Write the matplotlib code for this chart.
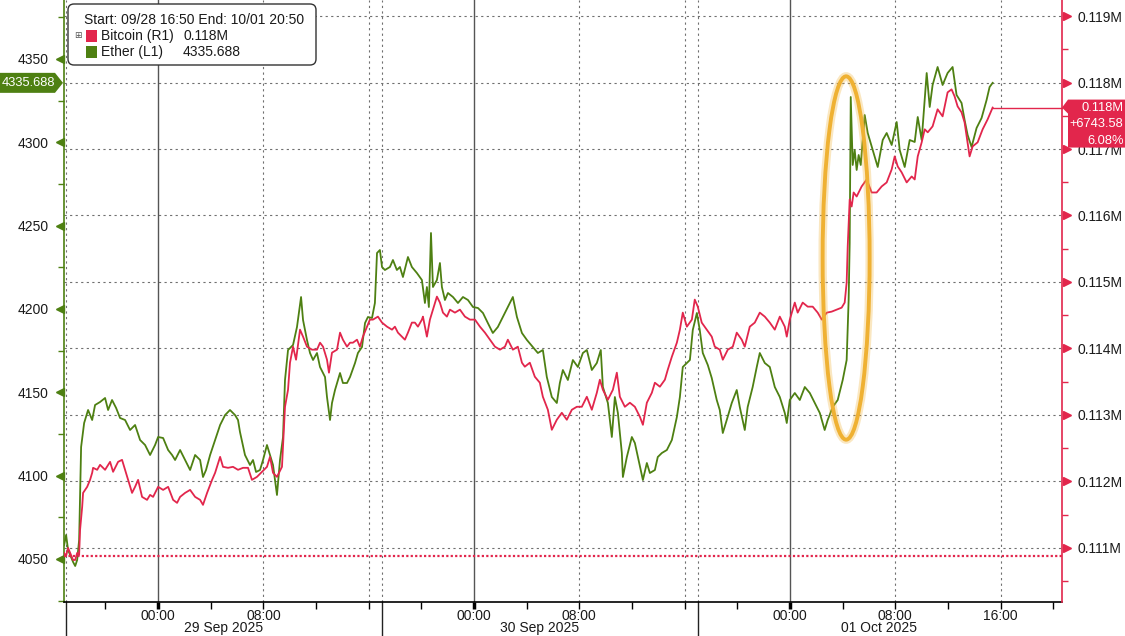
import matplotlib
matplotlib.use("Agg")
import matplotlib.pyplot as plt
import matplotlib.transforms as mtransforms
from matplotlib import font_manager
from matplotlib.patches import Ellipse, FancyBboxPatch, Polygon, Rectangle

_names = {f.name for f in font_manager.fontManager.ttflist}
if 'Liberation Sans Narrow' in _names:
    plt.rcParams['font.family'] = ['Liberation Sans Narrow', 'DejaVu Sans']
    FS = 10.5
    FS_TAG = 10.5
else:
    plt.rcParams['font.family'] = ['Liberation Sans', 'DejaVu Sans']
    FS = 10
    FS_TAG = 9.3

# ---------------- data (time = hours since 2025-09-28 00:00) ----------------
eth_hours = [
    16.86, 17.01, 17.16, 17.32, 17.54, 17.70, 17.85, 18.00, 18.15, 18.38,
    18.68, 18.99, 19.21, 19.59, 19.97, 20.20, 20.50, 20.81, 21.11, 21.49,
    21.87, 22.25, 22.63, 23.01, 23.39, 23.77, 24.00, 24.38, 24.76, 25.06,
    25.29, 25.67, 26.05, 26.43, 26.81, 27.19, 27.41, 27.64, 27.95, 28.33,
    28.71, 29.09, 29.46, 29.84, 30.07, 30.22, 30.60, 30.98, 31.21, 31.44,
    31.74, 31.97, 32.27, 32.50, 32.73, 33.03, 33.26, 33.49, 33.64, 33.87,
    34.25, 34.55, 34.86, 35.01, 35.31, 35.54, 35.77, 36.07, 36.30, 36.68,
    36.83, 37.06, 37.21, 37.44, 37.82, 38.04, 38.35, 38.58, 38.96, 39.18,
    39.49, 39.72, 39.94, 40.25, 40.47, 40.63, 40.85, 41.01, 41.23, 41.61,
    41.84, 42.14, 42.37, 42.60, 42.98, 43.28, 43.66, 44.04, 44.27, 44.42,
    44.57, 44.73, 44.88, 45.18, 45.41, 45.56, 45.79, 46.02, 46.40, 46.78,
    47.16, 47.54, 47.92, 48.30, 48.68, 49.05, 49.43, 49.81, 50.19, 50.57,
    50.95, 51.26, 51.64, 52.02, 52.47, 52.85, 53.23, 53.53, 53.91, 54.29,
    54.52, 54.75, 55.13, 55.51, 55.89, 56.27, 56.57, 56.95, 57.33, 57.63,
    57.79, 58.17, 58.47, 58.70, 58.93, 59.23, 59.31, 59.61, 59.99, 60.22,
    60.45, 60.83, 61.13, 61.36, 61.74, 61.96, 62.27, 62.65, 63.03, 63.41,
    63.64, 63.86, 64.17, 64.40, 64.62, 64.93, 65.15, 65.38, 65.76, 66.06,
    66.44, 66.67, 66.90, 67.20, 67.58, 67.96, 68.19, 68.57, 68.79, 69.17,
    69.48, 69.71, 70.09, 70.47, 70.85, 71.23, 71.61, 71.76, 71.99, 72.37,
    72.75, 73.13, 73.51, 73.89, 74.27, 74.64, 74.87, 75.25, 75.63, 76.01,
    76.31, 76.46, 76.54, 76.62, 76.77, 76.92, 77.07, 77.22, 77.38, 77.68,
    77.91, 78.29, 78.67, 79.05, 79.35, 79.73, 80.11, 80.34, 80.72, 81.10,
    81.48, 81.71, 82.01, 82.39, 82.62, 82.84, 83.22, 83.60, 83.98, 84.36,
    84.66, 85.04, 85.27, 85.50, 85.80, 86.18, 86.56, 86.94, 87.17, 87.40,
]
eth_values = [
    4058.4, 4064.4, 4055.4, 4052.4, 4048.2, 4045.8, 4049.4, 4061.4, 4117.2, 4131.6,
    4139.4, 4133.4, 4142.4, 4144.2, 4146.6, 4139.4, 4145.4, 4140.6, 4134.6, 4133.4,
    4127.4, 4130.4, 4121.4, 4118.4, 4112.4, 4118.4, 4123.2, 4122.6, 4115.4, 4112.4,
    4109.4, 4115.4, 4109.4, 4103.4, 4112.4, 4109.4, 4099.2, 4103.4, 4112.4, 4121.4,
    4130.4, 4136.4, 4139.4, 4136.4, 4133.4, 4126.2, 4112.4, 4106.4, 4109.4, 4102.2,
    4103.4, 4109.4, 4118.4, 4112.4, 4106.4, 4088.4, 4109.4, 4123.2, 4157.4, 4175.4,
    4178.4, 4189.2, 4207.2, 4193.4, 4181.4, 4173.6, 4169.4, 4173.6, 4165.2, 4159.2,
    4147.2, 4133.4, 4143.6, 4151.4, 4161.6, 4155.6, 4155.6, 4159.2, 4167.6, 4173.6,
    4177.2, 4191.6, 4195.2, 4194.6, 4203.6, 4233.6, 4235.4, 4225.2, 4223.4, 4225.2,
    4229.4, 4223.4, 4225.2, 4219.2, 4231.2, 4225.2, 4221.6, 4217.4, 4203.6, 4213.2,
    4201.2, 4245.6, 4213.2, 4217.4, 4227.6, 4213.2, 4205.4, 4209.6, 4207.2, 4203.6,
    4207.2, 4205.4, 4201.2, 4200.6, 4197.6, 4191.6, 4185.6, 4189.2, 4195.2, 4201.2,
    4207.2, 4195.2, 4185.6, 4181.4, 4177.2, 4173.6, 4175.4, 4159.2, 4147.2, 4143.6,
    4155.6, 4163.4, 4157.4, 4169.4, 4165.2, 4173.6, 4175.4, 4163.4, 4167.6, 4175.4,
    4153.2, 4143.6, 4123.2, 4147.2, 4137.6, 4113.6, 4099.2, 4111.2, 4123.2, 4119.6,
    4111.2, 4097.4, 4107.6, 4101.6, 4103.4, 4111.2, 4113.6, 4115.4, 4121.4, 4135.2,
    4147.2, 4165.2, 4167.6, 4169.4, 4187.4, 4197.6, 4187.4, 4173.6, 4166.4, 4158.6,
    4145.4, 4139.4, 4125.6, 4133.4, 4143.6, 4151.4, 4141.2, 4127.4, 4141.2, 4153.2,
    4165.2, 4173.6, 4167.6, 4165.2, 4153.2, 4147.2, 4137.6, 4131.6, 4145.4, 4149.6,
    4145.4, 4153.2, 4149.6, 4143.6, 4137.6, 4127.4, 4133.4, 4141.2, 4145.4, 4157.4,
    4169.4, 4205.4, 4239.6, 4327.2, 4286.4, 4295.4, 4283.4, 4292.4, 4286.4, 4316.4,
    4305.6, 4295.4, 4285.2, 4301.4, 4305.6, 4298.4, 4312.2, 4295.4, 4285.2, 4301.4,
    4300.2, 4315.2, 4301.4, 4341.6, 4321.2, 4334.4, 4345.2, 4334.4, 4341.6, 4345.2,
    4328.4, 4323.6, 4313.4, 4304.4, 4297.2, 4308.6, 4314.6, 4325.4, 4333.2, 4335.688,
]

btc_hours = [
    16.86, 17.01, 17.16, 17.32, 17.54, 17.70, 17.85, 18.00, 18.07, 18.23,
    18.30, 18.61, 18.83, 18.99, 19.06, 19.37, 19.59, 19.97, 20.35, 20.58,
    20.96, 21.26, 21.49, 21.72, 22.02, 22.25, 22.48, 22.78, 23.16, 23.39,
    23.62, 24.00, 24.38, 24.76, 25.14, 25.44, 25.67, 26.05, 26.43, 26.81,
    27.19, 27.41, 27.72, 28.10, 28.33, 28.71, 28.93, 29.31, 29.69, 30.07,
    30.45, 30.83, 31.13, 31.51, 31.89, 32.27, 32.50, 32.73, 33.03, 33.41,
    33.64, 33.87, 34.02, 34.25, 34.48, 34.78, 35.01, 35.31, 35.69, 36.07,
    36.30, 36.53, 36.83, 36.98, 37.21, 37.59, 37.82, 38.04, 38.35, 38.58,
    38.80, 39.11, 39.33, 39.56, 39.87, 40.09, 40.32, 40.70, 41.01, 41.39,
    41.77, 41.99, 42.22, 42.52, 42.75, 42.98, 43.28, 43.51, 43.74, 44.04,
    44.12, 44.42, 44.65, 44.88, 45.18, 45.41, 45.64, 45.94, 46.17, 46.55,
    46.93, 47.31, 47.69, 48.07, 48.45, 48.83, 49.21, 49.59, 49.97, 50.35,
    50.57, 50.95, 51.33, 51.64, 51.86, 52.24, 52.62, 53.00, 53.23, 53.61,
    53.91, 54.29, 54.67, 55.05, 55.43, 55.81, 56.19, 56.57, 56.95, 57.33,
    57.56, 57.79, 58.17, 58.55, 58.85, 59.08, 59.46, 59.84, 60.22, 60.60,
    60.83, 61.13, 61.51, 61.74, 62.12, 62.50, 62.72, 63.03, 63.41, 63.64,
    63.86, 64.17, 64.55, 64.77, 65.00, 65.30, 65.68, 66.06, 66.29, 66.67,
    66.90, 67.28, 67.66, 67.96, 68.34, 68.57, 68.95, 69.33, 69.71, 70.09,
    70.47, 70.85, 71.23, 71.61, 71.76, 71.99, 72.37, 72.59, 72.97, 73.35,
    73.73, 74.11, 74.42, 74.80, 75.17, 75.55, 75.93, 76.16, 76.31, 76.39,
    76.54, 76.69, 76.84, 77.07, 77.45, 77.83, 78.21, 78.59, 78.97, 79.35,
    79.73, 79.96, 80.19, 80.49, 80.87, 81.25, 81.48, 81.71, 82.01, 82.24,
    82.47, 82.84, 83.22, 83.60, 83.98, 84.28, 84.51, 84.74, 85.04, 85.27,
    85.65, 85.88, 86.26, 86.64, 87.02, 87.40,
]
btc_values = [
    110925, 110880, 111000, 110925, 110819, 110819, 110925, 110895, 111271, 111617,
    111828, 111919, 112024, 112130, 112205, 112175, 112250, 112175, 112295, 112145,
    112295, 112325, 112175, 112024, 111828, 111919, 112024, 111768, 111723, 111798,
    111768, 111919, 111873, 111919, 111723, 111678, 111768, 111828, 111873, 111768,
    111723, 111648, 111828, 112024, 112130, 112370, 112220, 112205, 112220, 112175,
    112205, 112205, 112024, 112069, 112145, 112220, 112370, 112130, 112069, 112220,
    113123, 113379, 113786, 114027, 113831, 114283, 114178, 114027, 113982, 113982,
    114087, 114027, 113831, 113636, 113937, 113982, 114238, 114132, 114027, 114087,
    114087, 114132, 114027, 114178, 114328, 114434, 114434, 114479, 114389, 114328,
    114283, 114328, 114238, 114178, 114132, 114238, 114389, 114389, 114328, 114434,
    114479, 114178, 114434, 114584, 114780, 114690, 114539, 114479, 114584, 114539,
    114584, 114479, 114434, 114434, 114328, 114238, 114132, 114027, 113982, 114027,
    114132, 113982, 114027, 113786, 113726, 113786, 113575, 113485, 113274, 113078,
    112777, 112928, 113033, 112928, 113078, 113123, 113123, 113274, 113078, 113334,
    113530, 113379, 113229, 113379, 113636, 113274, 113123, 113184, 113123, 112973,
    112852, 113184, 113334, 113485, 113425, 113530, 113681, 113876, 114087, 114283,
    114539, 114328, 114434, 114735, 114629, 114389, 114283, 114178, 114027, 113982,
    113831, 113982, 114027, 114238, 114132, 114027, 114328, 114389, 114539, 114479,
    114389, 114283, 114479, 114328, 114178, 114434, 114690, 114539, 114690, 114629,
    114629, 114539, 114434, 114539, 114554, 114584, 114614, 114690, 114991, 115533,
    116241, 116135, 116346, 116286, 116437, 116542, 116346, 116346, 116437, 116497,
    116693, 116889, 116738, 116648, 116497, 116587, 116542, 116889, 117100, 117296,
    117251, 117341, 117597, 117491, 117852, 117897, 117792, 117641, 117551, 117400,
    116889, 117039, 117100, 117296, 117446, 117623,
]
btc_change = 6743.58
btc_change_pct = 6.08

eth_ticks = [4050, 4100, 4150, 4200, 4250, 4300, 4350]
eth_minor_ticks = [4025, 4075, 4125, 4175, 4225, 4275, 4325, 4375]
btc_ticks = [111000, 112000, 113000, 114000, 115000, 116000, 117000, 118000, 119000]
btc_minor_ticks = [110500, 111500, 112500, 113500, 114500, 115500, 116500, 117500, 118500]

x_major_hours = [24, 32, 40, 48, 56, 64, 72, 80, 88]
x_major_labels = ["00:00", "08:00", "", "00:00", "08:00", "", "00:00", "08:00", "16:00"]
x_minor_hours = [20, 28, 36, 44, 52, 60, 68, 76, 84, 92]
midnight_hours = [24, 48, 72]
dashed_hours = [32, 40, 56, 64, 80, 88]
session_breaks = [17, 41, 65]
day_labels = ["29 Sep 2025", "30 Sep 2025", "01 Oct 2025"]
day_label_hours = [29.0, 53.0, 78.8]
legend_title = "Start: 09/28 16:50 End: 10/01 20:50"
btc_name = "Bitcoin (R1)"
eth_name = "Ether (L1)"

# ---------------- styling ----------------
GREEN = '#4e8012'
RED = '#e2264c'
ORANGE = '#efb133'
GRIDC = '#707070'
TXT = '#1a1a1a'
W, H = 1125, 636

x_start, x_end = 16.85, 92.67
eth_lim = (4024.2, 4385.4)
btc_lim = (110187, 119241)

fig = plt.figure(figsize=(W / 100, H / 100), dpi=100)
fig.patch.set_facecolor('white')
ax = fig.add_axes([64 / W, (H - 602) / H, (1062 - 64) / W, 602 / H])
ax2 = ax.twinx()
ax.set_xlim(x_start, x_end)
ax.set_ylim(*eth_lim)
ax2.set_ylim(*btc_lim)


def btc_to_eth(v):
    return eth_lim[0] + (v - btc_lim[0]) / (btc_lim[1] - btc_lim[0]) * (eth_lim[1] - eth_lim[0])


# grid
for v in btc_ticks:
    ax.axhline(btc_to_eth(v), color=GRIDC, lw=0.8, ls=(0, (2, 3)), zorder=0.5)
for h in midnight_hours:
    ax.axvline(h, color='#555555', lw=1.0, zorder=0.5)
for h in dashed_hours + session_breaks:
    ax.axvline(h, color=GRIDC, lw=0.8, ls=(0, (2, 3)), zorder=0.5)

# series
ax.plot(eth_hours, eth_values, color=GREEN, lw=1.3, zorder=2)
ax2.plot(btc_hours, btc_values, color=RED, lw=1.3, zorder=2)
btc_ref = btc_values[-1] - btc_change
ax2.axhline(btc_ref, color=RED, lw=1.6, ls=(0, (1, 1)), zorder=1.5)
ax2.plot([btc_hours[-1], x_end], [btc_values[-1]] * 2, color=RED, lw=1.0, zorder=2, clip_on=False)

# spines
ax.spines['top'].set_visible(False)
ax.spines['right'].set_visible(False)
ax.spines['left'].set_color(GREEN)
ax.spines['left'].set_linewidth(1.2)
ax.spines['bottom'].set_color('black')
ax.spines['bottom'].set_linewidth(1.2)
for s in ['top', 'left', 'bottom']:
    ax2.spines[s].set_visible(False)
ax2.spines['right'].set_color(RED)
ax2.spines['right'].set_linewidth(1.2)

# y ticks left
ax.set_yticks(eth_ticks)
ax.set_yticklabels([f"{t}" for t in eth_ticks])
ax.set_yticks(eth_minor_ticks, minor=True)
ax.tick_params(axis='y', which='major', length=0, pad=11, labelsize=FS, labelcolor=TXT)
ax.tick_params(axis='y', which='minor', length=4, color=GREEN, width=1)
tl = mtransforms.offset_copy(mtransforms.blended_transform_factory(ax.transAxes, ax.transData),
                             fig=fig, x=-4.5, y=0, units='dots')
ax.plot([0] * len(eth_ticks), eth_ticks, ls='none', marker='<', ms=5.5, color=GREEN,
        transform=tl, clip_on=False)

# y ticks right
ax2.set_yticks(btc_ticks)
ax2.set_yticklabels([f"{t / 1e6:.3f}M" for t in btc_ticks])
ax2.set_yticks(btc_minor_ticks, minor=True)
ax2.tick_params(axis='y', which='major', length=0, pad=11, labelsize=FS, labelcolor=TXT)
ax2.tick_params(axis='y', which='minor', length=4, color=RED, width=1)
tr = mtransforms.offset_copy(mtransforms.blended_transform_factory(ax2.transAxes, ax2.transData),
                             fig=fig, x=4.5, y=0, units='dots')
ax2.plot([1] * len(btc_ticks), btc_ticks, ls='none', marker='>', ms=5.5, color=RED,
         transform=tr, clip_on=False)

# x ticks
ax.set_xticks(x_major_hours)
ax.set_xticklabels(x_major_labels)
ax.set_xticks(x_minor_hours, minor=True)
ax.tick_params(axis='x', which='both', length=5, color='black', width=1, labelsize=FS, pad=0,
               labelcolor=TXT)
for h, tick in zip(x_major_hours, ax.xaxis.get_major_ticks()):
    if h in midnight_hours:
        tick.tick1line.set_markeredgewidth(2.5)

bt = mtransforms.blended_transform_factory(ax.transData, ax.transAxes)
for h, lab in zip(day_label_hours, day_labels):
    ax.text(h, -0.0435, lab, transform=bt, ha='center', va='center', fontsize=FS, color=TXT)
for h in session_breaks:
    ax.plot([h, h], [0, -0.06], transform=bt, color='#222222', lw=1.0, clip_on=False)

# highlight ellipse
ell_glow = Ellipse((76.27, 4230.6), width=3.57, height=218, fill=False, ec=ORANGE, lw=6,
                   alpha=0.3, transform=ax.transData, zorder=5)
ell = Ellipse((76.27, 4230.6), width=3.57, height=218, fill=False, ec=ORANGE, lw=2.8,
              transform=ax.transData, zorder=6)
ax2.add_patch(ell_glow)
ax2.add_patch(ell)

# legend box (display pixel coordinates)
ident = mtransforms.IdentityTransform()
box = FancyBboxPatch((68, H - 65), 248, 61, boxstyle='round,pad=0,rounding_size=6',
                     fc='white', ec='#333333', lw=1.0, transform=ident, zorder=20)
fig.add_artist(box)
fig.text(84, H - 20, legend_title, transform=ident, va='center', ha='left', fontsize=FS,
         color=TXT, zorder=21)
fig.text(78, H - 35, "⊞", transform=ident, va='center', ha='center', fontsize=6.5,
         color='#555555', zorder=21)
fig.add_artist(Rectangle((86, H - 42), 11, 12, fc=RED, ec='none', transform=ident, zorder=21))
fig.add_artist(Rectangle((86, H - 58), 11, 12, fc=GREEN, ec='none', transform=ident, zorder=21))
fig.text(101, H - 36, btc_name, transform=ident, va='center', ha='left', fontsize=FS,
         color=TXT, zorder=21)
fig.text(183, H - 36, f"{btc_values[-1] / 1e6:.3f}M", transform=ident, va='center', ha='left',
         fontsize=FS, color=TXT, zorder=21)
fig.text(101, H - 52, eth_name, transform=ident, va='center', ha='left', fontsize=FS,
         color=TXT, zorder=21)
fig.text(183, H - 52, f"{eth_values[-1]:.3f}", transform=ident, va='center', ha='left',
         fontsize=FS, color=TXT, zorder=21)

# last-value tags
fig.canvas.draw()
yc_e = ax.transData.transform((x_start, eth_values[-1]))[1]
fig.add_artist(Polygon([(0, yc_e - 10), (55, yc_e - 10), (63, yc_e), (55, yc_e + 10), (0, yc_e + 10)],
                       closed=True, fc=GREEN, ec='none', transform=ident, zorder=20))
fig.text(28.5, yc_e, f"{eth_values[-1]:.3f}", transform=ident, va='center', ha='center',
         fontsize=FS_TAG, color='white', zorder=21)

yc_b = ax2.transData.transform((x_end, btc_values[-1]))[1]
fig.add_artist(Polygon([(1062, yc_b), (1068, yc_b + 8), (1125, yc_b + 8), (1125, yc_b - 40),
                        (1068, yc_b - 40), (1068, yc_b - 6)],
                       closed=True, fc=RED, ec='none', transform=ident, zorder=20))
for i, s in enumerate([f"{btc_values[-1] / 1e6:.3f}M", f"+{btc_change:.2f}", f"{btc_change_pct:.2f}%"]):
    fig.text(1123.5, yc_b - 16.5 * i, s, transform=ident, va='center', ha='right', fontsize=FS_TAG,
             color='white', zorder=21)

fig.savefig("out.png", dpi=100, facecolor='white')
